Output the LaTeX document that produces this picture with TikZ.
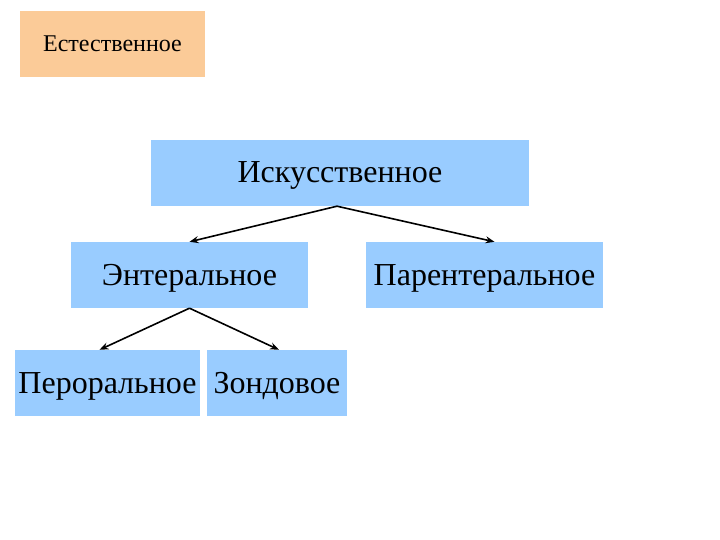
\documentclass[tikz,border=0pt]{standalone}
\usepackage{fontspec}
\setmainfont{Liberation Serif}
\usetikzlibrary{arrows.meta}
\definecolor{boxblue}{HTML}{99CCFF}
\definecolor{boxorange}{HTML}{FBCB98}
\begin{document}
\begin{tikzpicture}[x=1pt,y=-1pt,
  bluebox/.style={fill=boxblue,draw=none,inner sep=0pt,text height=24pt,text depth=4pt,font=\fontsize{32}{34}\selectfont},
  orangebox/.style={fill=boxorange,draw=none,inner sep=0pt,text height=18pt,text depth=2pt,font=\fontsize{24}{26}\selectfont},
  conn/.style={draw=black,line width=1.6pt,-{Stealth[length=9pt,width=7pt]}}]
\useasboundingbox (0,0) rectangle (720,540);
\node[orangebox,minimum width=185pt,minimum height=66pt] (nat) at (112.5,44) {Естественное};
\node[bluebox,minimum width=378pt,minimum height=66pt] (isk) at (340,173) {Искусственное};
\node[bluebox,minimum width=237pt,minimum height=66pt] (ent) at (189.5,275) {Энтеральное};
\node[bluebox,minimum width=237pt,minimum height=66pt] (par) at (484.5,275) {Парентеральное};
\node[bluebox,minimum width=185pt,minimum height=66pt] (per) at (107.5,383) {Пероральное};
\node[bluebox,minimum width=140pt,minimum height=66pt] (zon) at (277,383) {Зондовое};
\draw[conn] ([xshift=-3pt]isk.south) -- (ent.north);
\draw[conn] ([xshift=-3pt]isk.south) -- ([xshift=10pt]par.north);
\draw[conn] (ent.south) -- ([xshift=-8pt]per.north);
\draw[conn] (ent.south) -- ([xshift=2pt]zon.north);
\end{tikzpicture}
\end{document}
